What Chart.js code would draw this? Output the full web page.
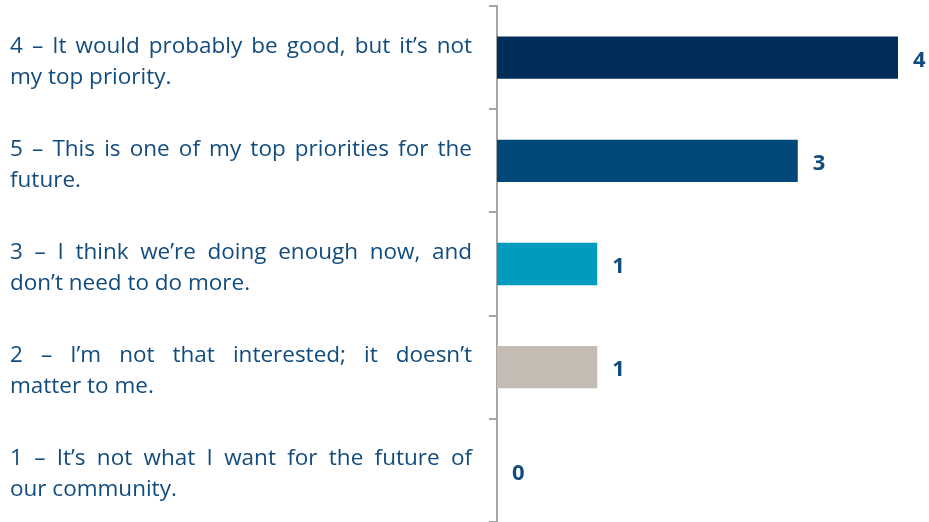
<!DOCTYPE html>
<html>
<head>
<meta charset="utf-8">
<script src="https://cdn.jsdelivr.net/npm/chart.js@4/dist/chart.umd.min.js"></script>
<style>
html,body{margin:0;padding:0;background:#fff;}
#wrap{width:929px;height:522px;position:relative;}
</style>
</head>
<body>
<div id="wrap"><canvas id="c" width="929" height="522"></canvas></div>
<script>
// Data
const categories = [
  ["4 – It would probably be good, but it’s not", "my top priority."],
  ["5 – This is one of my top priorities for the", "future."],
  ["3 – I think we’re doing enough now, and", "don’t need to do more."],
  ["2 – I’m not that interested; it doesn’t", "matter to me."],
  ["1 – It’s not what I want for the future of", "our community."]
];
const values = [4, 3, 1, 1, 0];
const barColors = ["#002D5A", "#00477A", "#009BBD", "#C4BBB2", "#C4BBB2"];

const textColor = "#124C7F";
const labelFont = '22.5px "Open Sans", sans-serif';
const valueFont = 'bold 22px "Open Sans", sans-serif';

const labelPlugin = {
  id: 'labels',
  afterDraw(chart) {
    const ctx = chart.ctx;
    const ys = chart.scales.y, xs = chart.scales.x;
    const leftX = 10, rightX = 472, lineGap = 31;
    ctx.save();
    ctx.fillStyle = textColor;
    ctx.textBaseline = 'middle';
    ctx.font = labelFont;
    categories.forEach((lines, i) => {
      const cy = ys.getPixelForValue(i) + 4;
      const n = lines.length;
      lines.forEach((line, j) => {
        const y = cy + (j - (n - 1) / 2) * lineGap;
        ctx.textAlign = 'left';
        if (j < n - 1) {
          const words = line.split(' ');
          const wsum = words.reduce((s, w) => s + ctx.measureText(w).width, 0);
          const gap = Math.max(3, (rightX - leftX - wsum) / (words.length - 1));
          let x = leftX;
          words.forEach(w => { ctx.fillText(w, x, y); x += ctx.measureText(w).width + gap; });
        } else {
          ctx.fillText(line, leftX, y);
        }
      });
    });
    ctx.font = valueFont;
    ctx.textAlign = 'left';
    values.forEach((v, i) => {
      ctx.fillText(String(v), xs.getPixelForValue(v) + 15, ys.getPixelForValue(i) + 3);
    });
    ctx.restore();
  }
};

new Chart(document.getElementById('c'), {
  type: 'bar',
  data: {
    labels: categories.map(c => c.join(' ')),
    datasets: [{
      data: values,
      backgroundColor: barColors,
      barPercentage: 0.41,
      categoryPercentage: 1.0,
      borderWidth: 0
    }]
  },
  options: {
    indexAxis: 'y',
    responsive: false,
    animation: false,
    layout: { padding: { top: 6, right: 31, bottom: 0, left: 0 } },
    plugins: { legend: { display: false }, tooltip: { enabled: false } },
    scales: {
      x: { display: false, min: 0, max: 4 },
      y: {
        offset: true,
        afterFit(s) { s.width = 497; },
        ticks: { display: false },
        grid: {
          offset: true,
          drawOnChartArea: false,
          drawTicks: true,
          tickLength: 8,
          color: '#A6A6A6',
          lineWidth: 2
        },
        border: { display: true, color: '#A6A6A6', width: 2 }
      }
    }
  },
  plugins: [labelPlugin]
});
</script>
</body>
</html>
